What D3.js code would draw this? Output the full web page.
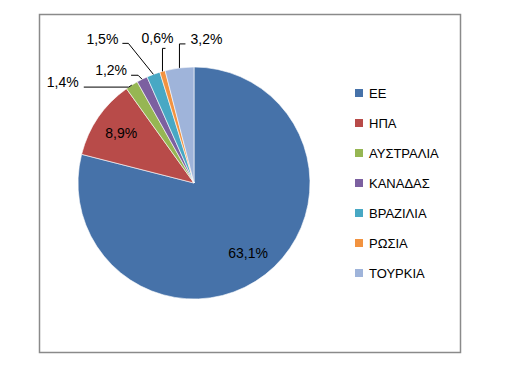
<!DOCTYPE html>
<html>
<head>
<meta charset="utf-8">
<script src="https://cdn.jsdelivr.net/npm/d3@7/dist/d3.min.js"></script>
<style>
  html, body { margin: 0; padding: 0; background: #fff; }
  svg { display: block; }
  text { font-family: "Liberation Sans", Arial, sans-serif; fill: #000; }
</style>
</head>
<body>
<svg id="chart" width="506" height="365"></svg>
<script>
// ---- data ----
const categories = ["ΕΕ", "ΗΠΑ", "ΑΥΣΤΡΑΛΙΑ", "ΚΑΝΑΔΑΣ", "ΒΡΑΖΙΛΙΑ", "ΡΩΣΙΑ", "ΤΟΥΡΚΙΑ"];
const values = [63.1, 8.9, 1.4, 1.2, 1.5, 0.6, 3.2];
const valueLabels = ["63,1%", "8,9%", "1,4%", "1,2%", "1,5%", "0,6%", "3,2%"];
const colors = ["#4672A9", "#B84B49", "#96B653", "#7C60A0", "#48A8C4", "#F29340", "#9FB4DA"];

// ---- layout ----
const W = 506, H = 365;
const cx = 194, cy = 183, R = 116;
const svg = d3.select("#chart");

svg.append("rect").attr("x", 0).attr("y", 0).attr("width", W).attr("height", H).attr("fill", "#fff");
svg.append("rect")
  .attr("x", 39.5).attr("y", 14.5).attr("width", 421).attr("height", 338)
  .attr("fill", "#fff").attr("stroke", "#8a8a8a").attr("stroke-width", 1.5);

const data = categories.map((c, i) => ({ cat: c, value: values[i], label: valueLabels[i], color: colors[i] }));

const pie = d3.pie().sort(null).value(d => d.value).startAngle(0).endAngle(2 * Math.PI);
const arcs = pie(data);
const arc = d3.arc().innerRadius(0).outerRadius(R);

const g = svg.append("g").attr("transform", `translate(${cx},${cy})`);
g.selectAll("path.slice").data(arcs).enter().append("path")
  .attr("class", "slice")
  .attr("d", arc)
  .attr("fill", d => d.data.color)
  .attr("stroke", "#ffffff")
  .attr("stroke-width", 0.6);

// point on the arc at the slice mid-angle
function polar(a, r) { return [r * Math.sin(a), -r * Math.cos(a)]; }

// inside labels for the two large slices
const insideR = R * 0.76;
arcs.slice(0, 2).forEach(d => {
  const m = (d.startAngle + d.endAngle) / 2;
  const [x, y] = polar(m, insideR);
  g.append("text")
    .attr("x", x).attr("y", y).attr("dy", "0.35em")
    .attr("text-anchor", "middle")
    .attr("font-size", 14)
    .text(d.data.label);
});

// outside labels with leader lines: offsets relative to the slice edge point
const outsideLayout = [
  null, null,
  { text: [-69, -3], pts: [[-3, 2], [-48, 2]] },
  { text: [-31, -9], pts: [[-4, -4], [-11, -4]] },
  { text: [-51, -35], pts: [[-25, -31], [-31, -31]] },
  { text: [-5, -33], pts: [[0, -23], [3, -23]] },
  { text: [27, -29], pts: [[0, -24], [6, -24]] }
];
arcs.forEach((d, i) => {
  const L = outsideLayout[i];
  if (!L) return;
  const m = (d.startAngle + d.endAngle) / 2;
  const [ex, ey] = polar(m, R);
  const line = [[ex, ey]].concat(L.pts.map(p => [ex + p[0], ey + p[1]]));
  g.append("path")
    .attr("d", d3.line()(line))
    .attr("fill", "none").attr("stroke", "#000").attr("stroke-width", 1);
  g.append("text")
    .attr("x", ex + L.text[0]).attr("y", ey + L.text[1]).attr("dy", "0.35em")
    .attr("text-anchor", "middle")
    .attr("font-size", 14)
    .text(d.data.label);
});

// legend
const legend = svg.append("g").attr("transform", "translate(355,93)");
const row = legend.selectAll("g.row").data(data).enter().append("g")
  .attr("class", "row")
  .attr("transform", (d, i) => `translate(0,${i * 30})`);
row.append("rect").attr("x", 0).attr("y", -4).attr("width", 8).attr("height", 8).attr("fill", d => d.color);
row.append("text").attr("x", 14).attr("y", 0).attr("dy", "0.36em").attr("font-size", 13).text(d => d.cat);
</script>
</body>
</html>
